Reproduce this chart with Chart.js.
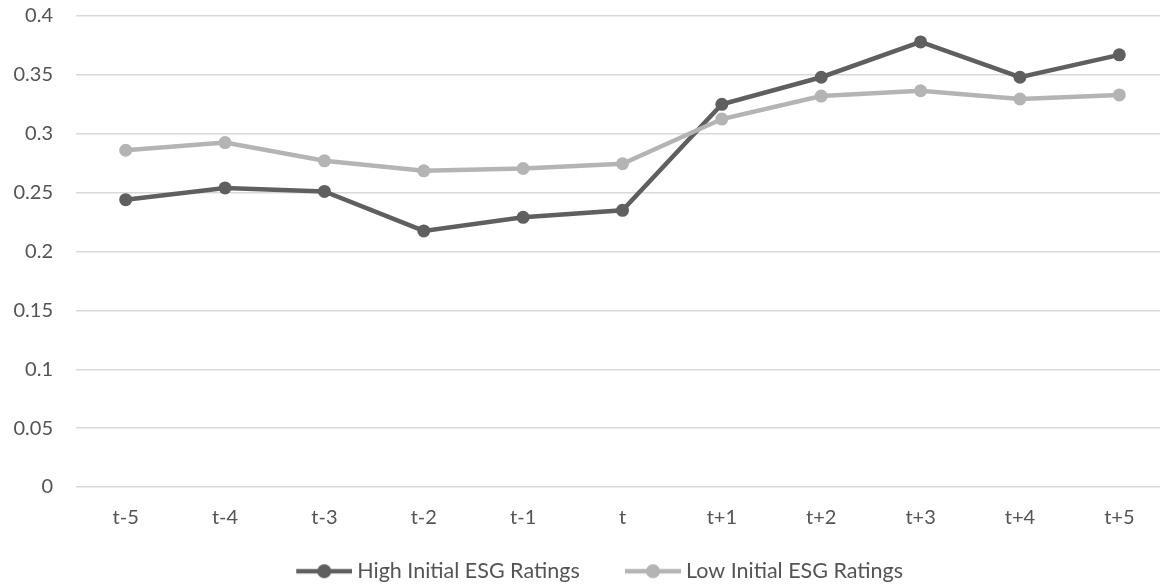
<!DOCTYPE html>
<html>
<head>
<meta charset="utf-8">
<script src="https://cdn.jsdelivr.net/npm/chart.js@4.4.1/dist/chart.umd.min.js"></script>
<style>
    html, body { margin: 0; padding: 0; background: #fff; overflow: hidden; }
    canvas { display: block; }
</style>
</head>
<body>
<canvas id="esgChart" width="1184" height="592"></canvas>
<script>
const periods = ['t-5', 't-4', 't-3', 't-2', 't-1', 't', 't+1', 't+2', 't+3', 't+4', 't+5'];
const highRatings = [0.244, 0.254, 0.251, 0.2175, 0.229, 0.235, 0.325, 0.348, 0.378, 0.348, 0.367];
const lowRatings = [0.286, 0.2925, 0.277, 0.2685, 0.2705, 0.2745, 0.3125, 0.332, 0.3365, 0.3295, 0.333];
const yTickLabels = ['0', '0.05', '0.1', '0.15', '0.2', '0.25', '0.3', '0.35', '0.4'];

const highColor = '#5f5f5f';
const lowColor = '#b4b4b4';
const textColor = '#545454';

// legend marker: short line with a dot, kept at the right end of the image
// (the empty left part widens the gap between the two legend entries)
function legendMarker(color) {
    const c = document.createElement('canvas');
    c.width = 77;
    c.height = 16;
    const g = c.getContext('2d');
    g.strokeStyle = color;
    g.lineWidth = 4.5;
    g.beginPath();
    g.moveTo(21, 8);
    g.lineTo(77, 8);
    g.stroke();
    g.fillStyle = color;
    g.beginPath();
    g.arc(49, 8, 7, 0, Math.PI * 2);
    g.fill();
    return c;
}
const markers = [legendMarker(highColor), legendMarker(lowColor)];

Chart.defaults.font.family = 'Lato, "Open Sans", sans-serif';
Chart.defaults.font.size = 20;
Chart.defaults.color = textColor;

new Chart(document.getElementById('esgChart'), {
    type: 'line',
    data: {
        labels: periods,
        datasets: [{
            label: 'High Initial ESG Ratings',
            data: highRatings,
            borderColor: highColor,
            backgroundColor: highColor,
            borderWidth: 4.5,
            pointRadius: 6.5,
            pointBorderWidth: 0,
            order: 2
        }, {
            label: 'Low Initial ESG Ratings',
            data: lowRatings,
            borderColor: lowColor,
            backgroundColor: lowColor,
            borderWidth: 4.5,
            pointRadius: 6.5,
            pointBorderWidth: 0,
            order: 1
        }]
    },
    options: {
        responsive: false,
        animation: false,
        devicePixelRatio: 1,
        layout: {
            padding: { top: 16, right: 0, bottom: 0, left: 0 }
        },
        scales: {
            x: {
                offset: true,
                grid: { display: false, drawTicks: false },
                border: { display: false },
                ticks: { padding: 19, color: textColor },
                afterFit: (axis) => { axis.height = 43.5; }
            },
            y: {
                min: 0,
                max: 0.4,
                afterFit: (axis) => {
                    axis.width = 76;
                    axis.paddingTop = 0;
                    axis.paddingBottom = 0;
                },
                afterBuildTicks: (axis) => {
                    axis.ticks = yTickLabels.map((t) => ({ value: parseFloat(t) }));
                },
                grid: { color: '#d9d9d9', lineWidth: 1.5, drawTicks: false },
                border: { display: false },
                ticks: {
                    padding: 23,
                    color: textColor,
                    callback: (v, i) => yTickLabels[i]
                }
            },
            // empty right axis, only keeps the plot area's right margin
            yRight: {
                type: 'linear',
                position: 'right',
                grid: { display: false, drawTicks: false },
                border: { display: false },
                ticks: { display: false },
                afterFit: (axis) => { axis.width = 15; }
            }
        },
        plugins: {
            tooltip: { enabled: false },
            legend: {
                position: 'bottom',
                labels: {
                    usePointStyle: true,
                    pointStyleWidth: 65.5,
                    padding: 30,
                    color: textColor,
                    font: { size: 21.5 },
                    sort: (a, b) => a.datasetIndex - b.datasetIndex,
                    generateLabels: (chart) => {
                        const items = Chart.defaults.plugins.legend.labels.generateLabels(chart);
                        items.forEach((it) => { it.pointStyle = markers[it.datasetIndex]; });
                        return items;
                    }
                }
            }
        }
    }
});
</script>
</body>
</html>
